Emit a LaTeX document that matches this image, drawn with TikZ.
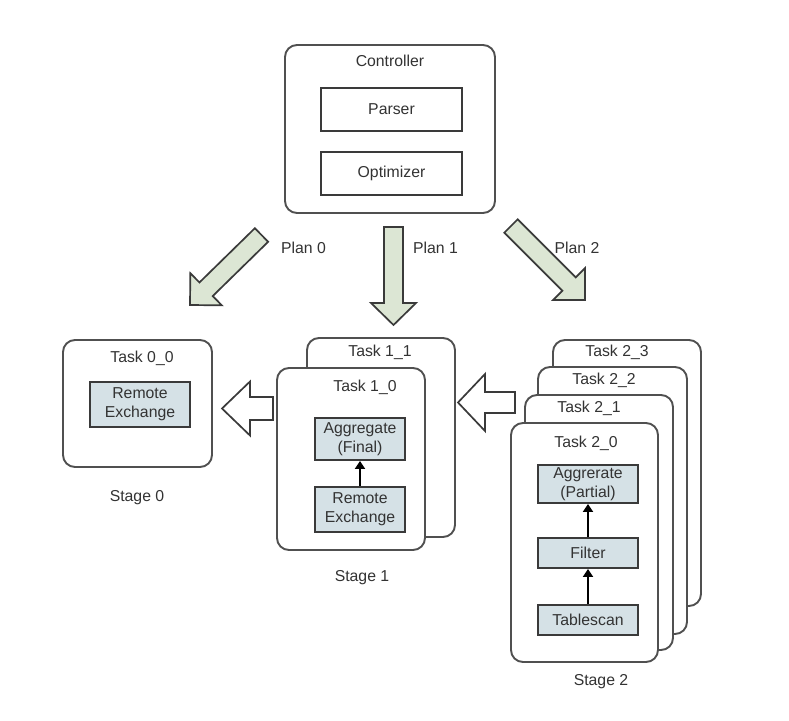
\documentclass[tikz,border=0pt]{standalone}
\usepackage{fontspec}
\setmainfont{Liberation Sans}
\usetikzlibrary{calc,arrows.meta}
\definecolor{boxline}{HTML}{505050}
\definecolor{opline}{HTML}{3A3A3A}
\definecolor{opfill}{HTML}{D5E1E6}
\definecolor{arrfill}{HTML}{DCE6D4}
\definecolor{txt}{HTML}{333333}
\newcommand\blockarrow[6]{%
  \coordinate (#2h) at ($(#3)!#6!(#2)$);
  \draw[#1] ($(#2)!#4!90:(#3)$) -- ($(#2h)!#4!90:(#3)$) -- ($(#2h)!#5!90:(#3)$) -- (#3)
    -- ($(#2h)!#5!-90:(#3)$) -- ($(#2h)!#4!-90:(#3)$) -- ($(#2)!#4!-90:(#3)$) -- cycle;}
\tikzset{
  outerbox/.style={draw=boxline, line width=1.9pt, rounded corners=12pt, fill=white, inner sep=0pt},
  opbox/.style={draw=opline, line width=1.9pt, fill=opfill, inner sep=0pt, align=center,
    font=\fontsize{15.8}{19}\selectfont, text=txt},
  plainbox/.style={draw=opline, line width=1.9pt, fill=white, inner sep=0pt,
    font=\fontsize{15.8}{19}\selectfont, text=txt},
  lbl/.style={font=\fontsize{15.8}{19}\selectfont, text=txt, inner sep=0pt},
  planarrow/.style={draw=opline, line width=1.7pt, fill=arrfill, line join=miter},
  hollowarrow/.style={draw=opline, line width=1.7pt, fill=white, line join=miter},
  flow/.style={draw=black, line width=1.9pt, -{Triangle[width=10pt,length=8pt]}},
}
\begin{document}
\begin{tikzpicture}[x=1pt,y=-1pt]
\useasboundingbox[fill=white] (0,0) rectangle (789,720);
% Controller
\node[outerbox, minimum width=210pt, minimum height=168pt] (ctrl) at (390,129) {};
\node[lbl] (ctrlt) at (390,61) {Controller};
\node[plainbox, minimum width=141pt, minimum height=43pt] (parser) at (391.5,109.5) {Parser};
\node[plainbox, minimum width=141pt, minimum height=43pt] (opt) at (391.5,173.5) {Optimizer};
% Plan arrows
\coordinate (p0t) at (261.5,235); \coordinate (p0h) at (190,305);
\coordinate (p1t) at (393.5,227); \coordinate (p1h) at (393.5,325);
\coordinate (p2t) at (511,226);   \coordinate (p2h) at (585,300);
\blockarrow{planarrow}{p0t}{p0h}{9.5pt}{22.5pt}{22.5pt}
\blockarrow{planarrow}{p1t}{p1h}{9.5pt}{22.5pt}{22pt}
\blockarrow{planarrow}{p2t}{p2h}{9.5pt}{22.5pt}{22.5pt}
\node[lbl] (plan0) at (303.5,248) {Plan 0};
\node[lbl] (plan1) at (435.5,248) {Plan 1};
\node[lbl] (plan2) at (577,248) {Plan 2};
% Stage 0
\node[outerbox, minimum width=149pt, minimum height=127pt] (t00) at (137.5,403.5) {};
\node[lbl] (t00t) at (142,358) {Task 0\_0};
\node[opbox, minimum width=100pt, minimum height=45pt] (re0) at (140,404.5) {Remote\\Exchange};
\node[lbl] (s0) at (137,498) {Stage 0};
% Stage 1
\node[outerbox, minimum width=148pt, minimum height=199pt] (t11) at (381,437.5) {};
\node[lbl] (t11t) at (380,352) {Task 1\_1};
\node[outerbox, minimum width=148pt, minimum height=182pt] (t10) at (351,459) {};
\node[lbl] (t10t) at (365,387) {Task 1\_0};
\node[opbox, minimum width=90pt, minimum height=42pt] (aggf) at (360,439) {Aggregate\\(Final)};
\node[opbox, minimum width=90pt, minimum height=45pt] (re1) at (360,509.5) {Remote\\Exchange};
\draw[flow] (re1.north) -- (aggf.south);
\node[lbl] (s1) at (362,578) {Stage 1};
% Stage 2
\node[outerbox, minimum width=148pt, minimum height=266pt] (t23) at (627,473) {};
\node[lbl] (t23t) at (617,352) {Task 2\_3};
\node[outerbox, minimum width=149pt, minimum height=267pt] (t22) at (612.5,500.5) {};
\node[lbl] (t22t) at (604,380) {Task 2\_2};
\node[outerbox, minimum width=148pt, minimum height=255pt] (t21) at (599,522.5) {};
\node[lbl] (t21t) at (589,408) {Task 2\_1};
\node[outerbox, minimum width=147pt, minimum height=239pt] (t20) at (584.5,542.5) {};
\node[lbl] (t20t) at (586,443) {Task 2\_0};
\node[opbox, minimum width=100pt, minimum height=38pt] (aggp) at (588,484) {Aggrerate\\(Partial)};
\node[opbox, minimum width=100pt, minimum height=30pt] (filt) at (588,553) {Filter};
\node[opbox, minimum width=100pt, minimum height=30pt] (scan) at (588,620) {Tablescan};
\draw[flow] (filt.north) -- (aggp.south);
\draw[flow] (scan.north) -- (filt.south);
\node[lbl] (s2) at (601,682) {Stage 2};
% Hollow arrows between stages
\coordinate (h1t) at (273,408.5); \coordinate (h1h) at (222,408.5);
\coordinate (h2t) at (515,402.5); \coordinate (h2h) at (458,402.5);
\blockarrow{hollowarrow}{h1t}{h1h}{11.5pt}{27pt}{28pt}
\blockarrow{hollowarrow}{h2t}{h2h}{10.5pt}{28.5pt}{27pt}
\end{tikzpicture}
\end{document}
